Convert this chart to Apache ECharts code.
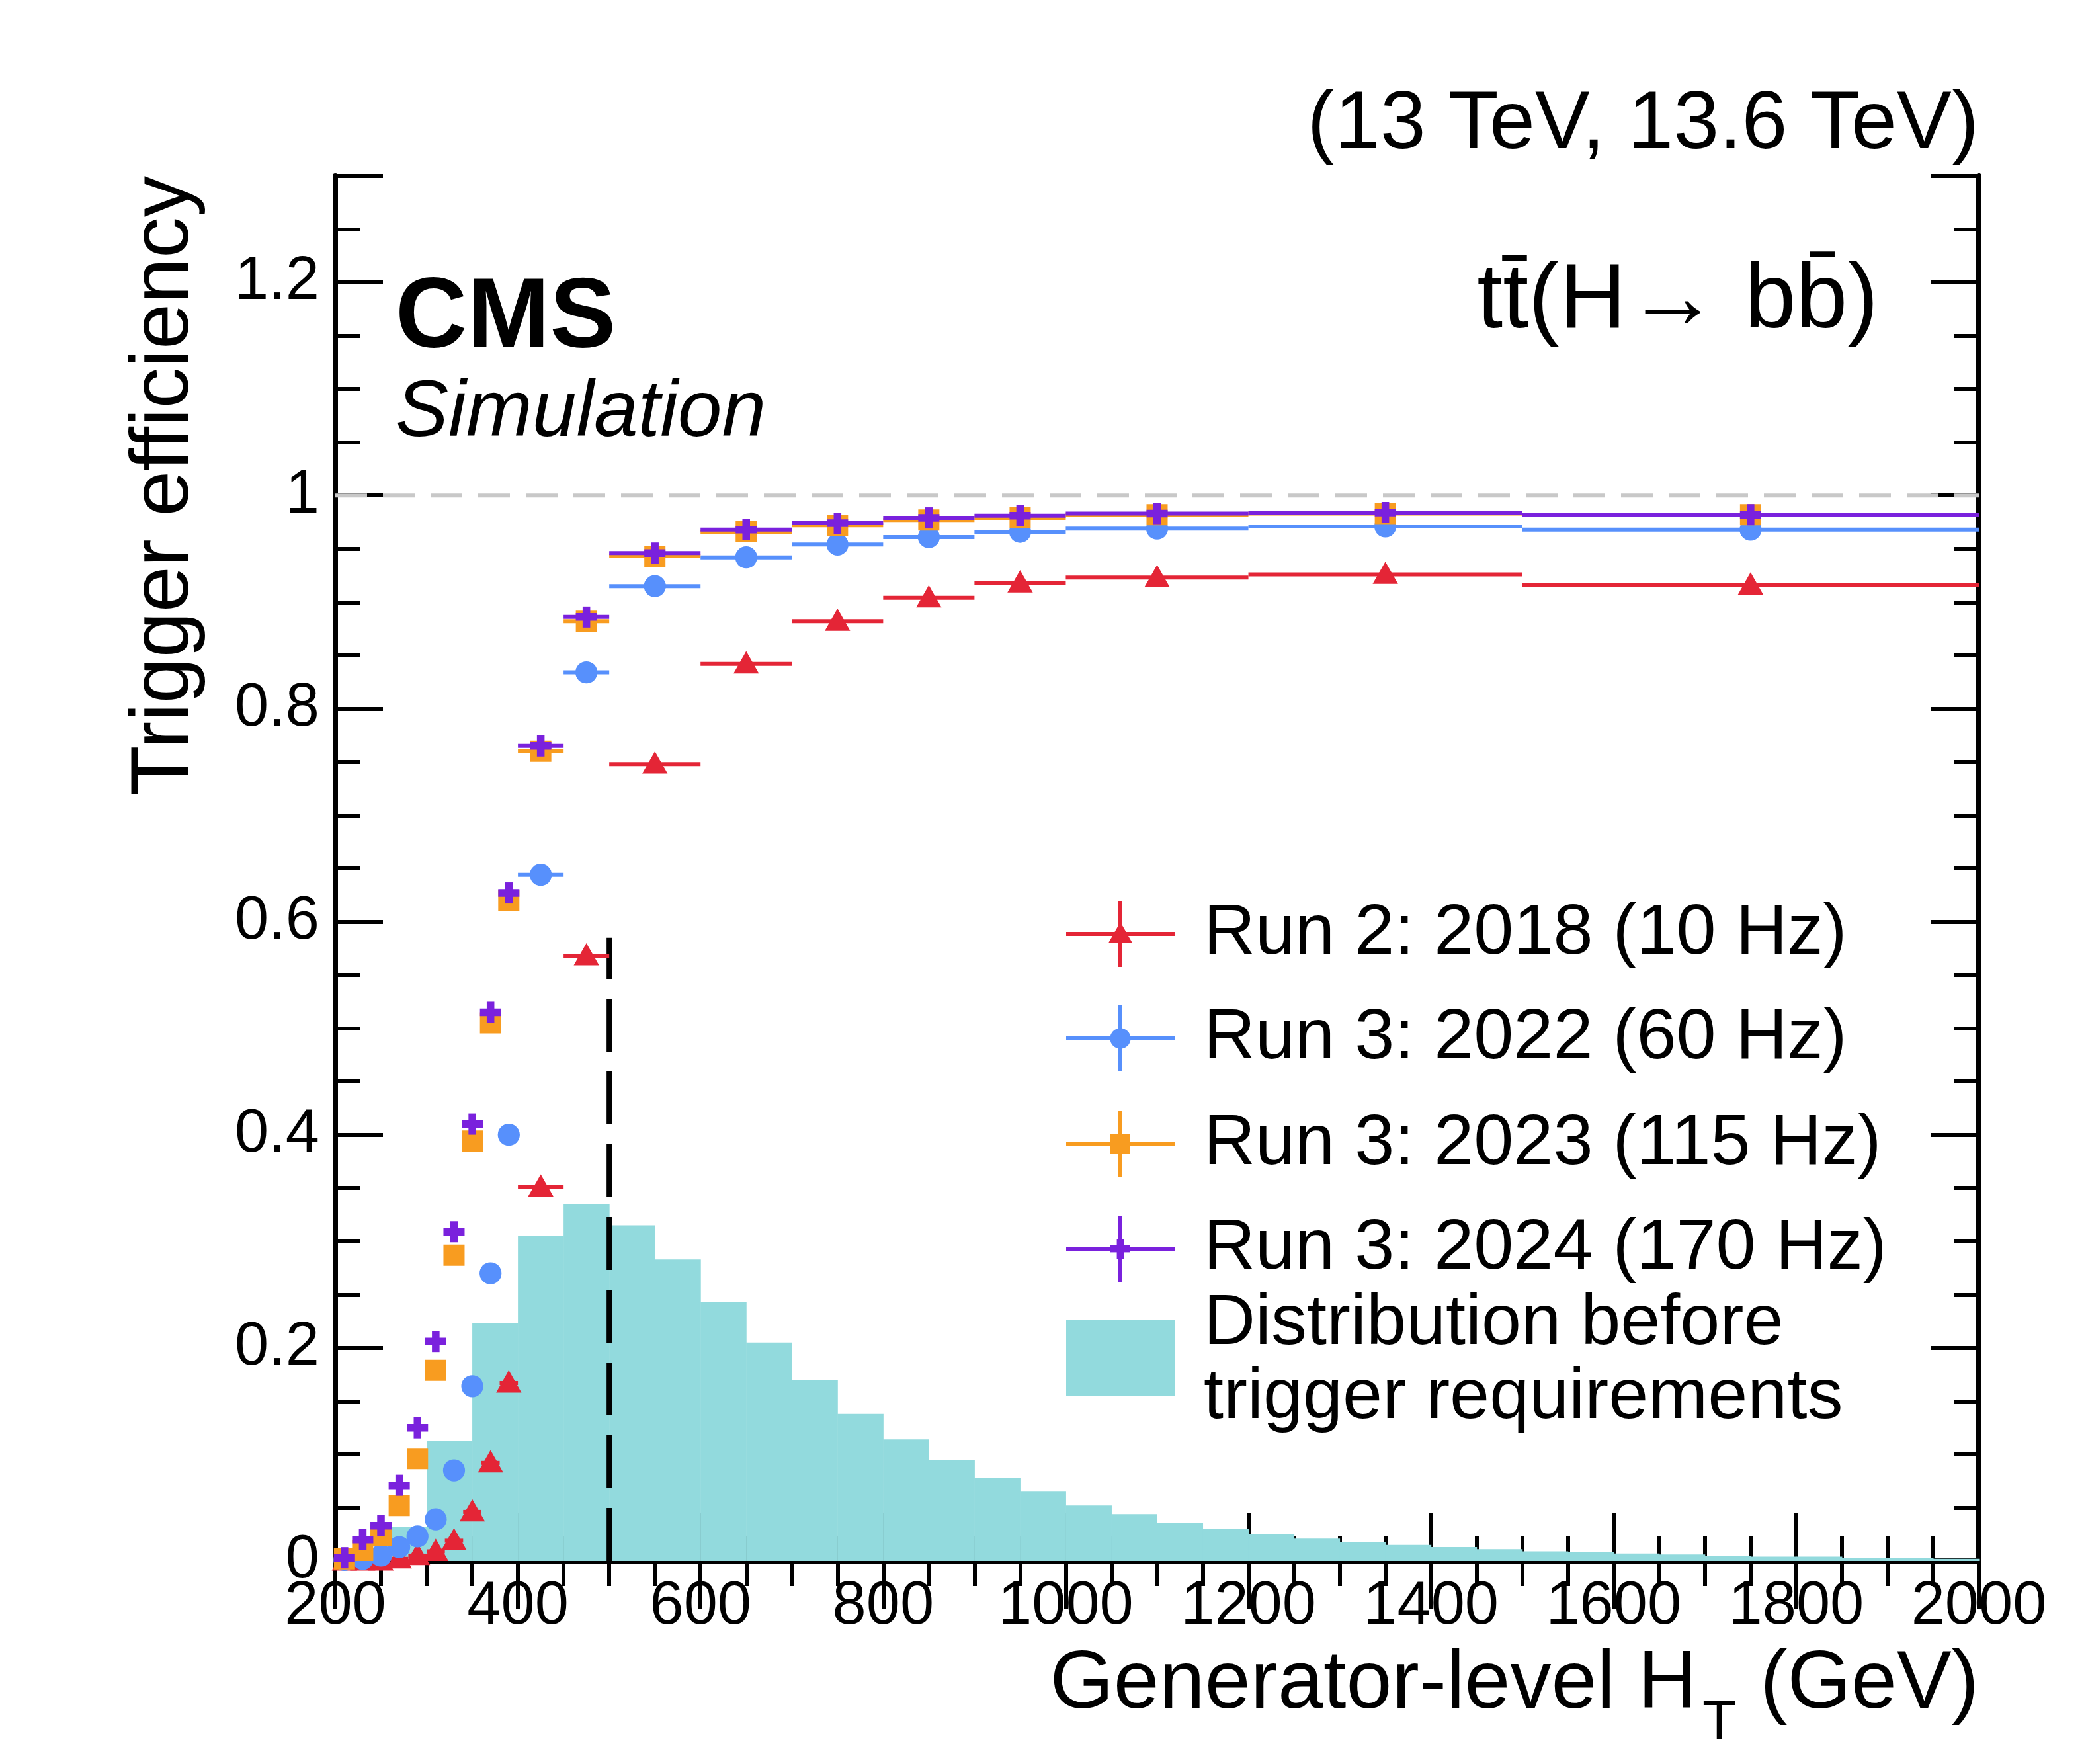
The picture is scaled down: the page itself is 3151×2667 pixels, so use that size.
<!DOCTYPE html>
<html><head><meta charset="utf-8">
<script src="https://cdn.jsdelivr.net/npm/echarts@6/dist/echarts.min.js"></script>
<style>html,body{margin:0;padding:0;background:#fff}#c{width:3151px;height:2667px}</style>
</head><body><div id="c"></div>
<script>
const binLo = [200,220,240,260,280,300,320,340,360,380,400,450,500,600,700,800,900,1000,1200,1500];
const binHi = [220,240,260,280,300,320,340,360,380,400,450,500,600,700,800,900,1000,1200,1500,2000];
const effRun2_2018 = [0,0,0,0.002,0.005,0.009,0.019,0.046,0.092,0.167,0.351,0.568,0.748,0.842,0.882,0.904,0.918,0.923,0.926,0.916];
const effRun3_2022 = [0.001,0.002,0.005,0.013,0.023,0.039,0.085,0.164,0.27,0.40,0.644,0.834,0.915,0.942,0.954,0.961,0.966,0.969,0.971,0.968];
const effRun3_2023 = [0.002,0.01,0.024,0.052,0.096,0.179,0.287,0.394,0.505,0.62,0.76,0.882,0.943,0.966,0.972,0.977,0.979,0.982,0.983,0.982];
const effRun3_2024 = [0.003,0.02,0.033,0.071,0.125,0.206,0.309,0.41,0.515,0.627,0.765,0.886,0.946,0.968,0.974,0.979,0.981,0.983,0.984,0.982];
const histLo = [250,300,350,400,450,500,550,600,650,700,750,800,850,900,950,1000,1050,1100,1150,1200,1250,1300,1350,1400,1450,1500,1550,1600,1650,1700,1750,1800,1850,1900,1950];
const histVal = [0.032,0.113,0.223,0.305,0.335,0.315,0.283,0.243,0.205,0.17,0.138,0.114,0.095,0.078,0.065,0.052,0.044,0.036,0.030,0.025,0.021,0.018,0.015,0.013,0.011,0.009,0.008,0.007,0.006,0.005,0.004,0.004,0.003,0.003,0.002];
const xTicks = [200,400,600,800,1000,1200,1400,1600,1800,2000];
const yTicks = [0,0.2,0.4,0.6,0.8,1,1.2];

const C = {red:'#e42536', blue:'#5790fc', orange:'#f89c20', purple:'#7a21dd', teal:'#92dadd'};
const FONT = 'Liberation Sans, Arial, sans-serif';

function marker(shape, cx, cy, color, s){
  if(shape==='circle') return {type:'circle', shape:{cx, cy, r:s*0.52}, style:{fill:color}};
  if(shape==='square') return {type:'rect', shape:{x:cx-s/2, y:cy-s/2, width:s, height:s}, style:{fill:color}};
  if(shape==='triangle') return {type:'polygon', shape:{points:[[cx,cy-s*0.6],[cx-s*0.6,cy+s*0.45],[cx+s*0.6,cy+s*0.45]]}, style:{fill:color}};
  const t=s*0.36;
  return {type:'group', children:[
    {type:'rect', shape:{x:cx-s/2, y:cy-t/2, width:s, height:t}, style:{fill:color}},
    {type:'rect', shape:{x:cx-t/2, y:cy-s/2, width:t, height:s}, style:{fill:color}}]};
}
function effSeries(name, vals, color, shape){
  const data = vals.map((v,i)=>[ (binLo[i]+binHi[i])/2, v, binLo[i], binHi[i] ]);
  return {type:'custom', name, data, z:5, clip:false,
    renderItem:(p,api)=>{
      const a=api.coord([api.value(2),api.value(1)]), b=api.coord([api.value(3),api.value(1)]), c=api.coord([api.value(0),api.value(1)]);
      return {type:'group', children:[
        {type:'line', shape:{x1:a[0],y1:a[1],x2:b[0],y2:b[1]}, style:{stroke:color,lineWidth:6}},
        marker(shape,c[0],c[1],color,32)]};
    }};
}
const histData = histLo.map((x,i)=>[x, x+50, histVal[i]]);

function ax(extra){
  return Object.assign({type:'value',
    axisLine:{show:true,lineStyle:{color:'#000',width:8}}, splitLine:{show:false},
    axisTick:{show:true,inside:true, length:72, lineStyle:{width:6,color:'#000'}},
    minorTick:{show:true, splitNumber:4, length:38, lineStyle:{width:6,color:'#000'}}}, extra);
}
const chart = echarts.init(document.getElementById('c'));
chart.setOption({
  animation:false,
  grid:{left:507, right:159, top:266, bottom:307},
  xAxis:[
    ax({min:200, max:2000, interval:200, position:'bottom',
     axisLabel:{fontSize:92, fontFamily:FONT, color:'#000', margin:24, formatter:v=>String(v)}}),
    ax({min:200, max:2000, interval:200, position:'top', axisLabel:{show:false}})
  ],
  yAxis:[
    ax({min:0, max:1.3, interval:0.2, position:'left',
     axisLabel:{fontSize:92, fontFamily:FONT, color:'#000', margin:24, showMaxLabel:false,
       formatter:v=>{const t=yTicks.find(k=>Math.abs(k-v)<1e-6); return t===undefined?'':(t===0||t===1?String(t):t.toFixed(1));}}}),
    ax({min:0, max:1.3, interval:0.2, position:'right', axisLabel:{show:false}})
  ],
  series:[
    {type:'custom', name:'hist', data:histData, z:1,
     renderItem:(p,api)=>{
       const a=api.coord([api.value(0),api.value(2)]), b=api.coord([api.value(1),0]);
       return {type:'rect', shape:{x:a[0],y:a[1],width:b[0]-a[0]+0.5,height:b[1]-a[1]}, style:{fill:C.teal}};
     }},
    {type:'line', data:[[200,1],[2000,1]], symbol:'none', z:2, lineStyle:{color:'#c8c8c8',width:6,type:[48,24]}},
    {type:'line', data:[[500,0],[500,0.585]], symbol:'none', z:3, lineStyle:{color:'#000',width:8,type:[80,30]}},
    effSeries('Run 2: 2018 (10 Hz)', effRun2_2018, C.red, 'triangle'),
    effSeries('Run 3: 2022 (60 Hz)', effRun3_2022, C.blue, 'circle'),
    effSeries('Run 3: 2023 (115 Hz)', effRun3_2023, C.orange, 'square'),
    effSeries('Run 3: 2024 (170 Hz)', effRun3_2024, C.purple, 'cross')
  ]
});

const legItems = [
  ['Run 2: 2018 (10 Hz)', C.red, 'triangle', 1412],
  ['Run 3: 2022 (60 Hz)', C.blue, 'circle', 1570],
  ['Run 3: 2023 (115 Hz)', C.orange, 'square', 1730],
  ['Run 3: 2024 (170 Hz)', C.purple, 'cross', 1888]
];
const g = [];
legItems.forEach(([t,col,sh,y])=>{
  g.push({type:'line', shape:{x1:1612,y1:y,x2:1777,y2:y}, style:{stroke:col,lineWidth:6}});
  g.push({type:'line', shape:{x1:1694,y1:y-50,x2:1694,y2:y+50}, style:{stroke:col,lineWidth:6}});
  g.push(marker(sh,1694,y,col,30));
  g.push({type:'text', style:{text:t, x:1820, y:y, verticalAlign:'middle', fontSize:108, fontFamily:FONT, fill:'#000'}});
});
g.push({type:'rect', shape:{x:1612,y:1996,width:165,height:114}, style:{fill:C.teal}});
g.push({type:'text', style:{text:'Distribution before', x:1820, y:2002, verticalAlign:'middle', fontSize:108, fontFamily:FONT, fill:'#000'}});
g.push({type:'text', style:{text:'trigger requirements', x:1820, y:2114, verticalAlign:'middle', fontSize:108, fontFamily:FONT, fill:'#000'}});
g.push({type:'text', style:{text:'(13 TeV, 13.6 TeV)', x:2992, y:190, align:'right', verticalAlign:'middle', fontSize:124, fontFamily:FONT, fill:'#000'}});
g.push({type:'text', style:{text:'tt\u0304(H\u2192 bb\u0304)', x:2840, y:456, align:'right', verticalAlign:'middle', fontSize:140, fontFamily:FONT, fill:'#000'}});
g.push({type:'text', style:{text:'CMS', x:598, y:484, verticalAlign:'middle', fontSize:150, fontWeight:'bold', fontFamily:FONT, fill:'#000'}});
g.push({type:'text', style:{text:'Simulation', x:598, y:626, verticalAlign:'middle', fontSize:120, fontStyle:'italic', fontFamily:FONT, fill:'#000'}});
g.push({type:'text', style:{text:'Generator-level H', x:2566, y:2548, align:'right', verticalAlign:'middle', fontSize:124, fontFamily:FONT, fill:'#000'}});
g.push({type:'text', style:{text:'T', x:2574, y:2606, verticalAlign:'middle', fontSize:84, fontFamily:FONT, fill:'#000'}});
g.push({type:'text', style:{text:'(GeV)', x:2992, y:2548, align:'right', verticalAlign:'middle', fontSize:124, fontFamily:FONT, fill:'#000'}});
g.push({type:'text', rotation:Math.PI/2, x:250, y:266, style:{text:'Trigger efficiency', x:0, y:0, align:'right', verticalAlign:'middle', fontSize:124, fontFamily:FONT, fill:'#000'}});
chart.setOption({graphic:g});
</script></body></html>
